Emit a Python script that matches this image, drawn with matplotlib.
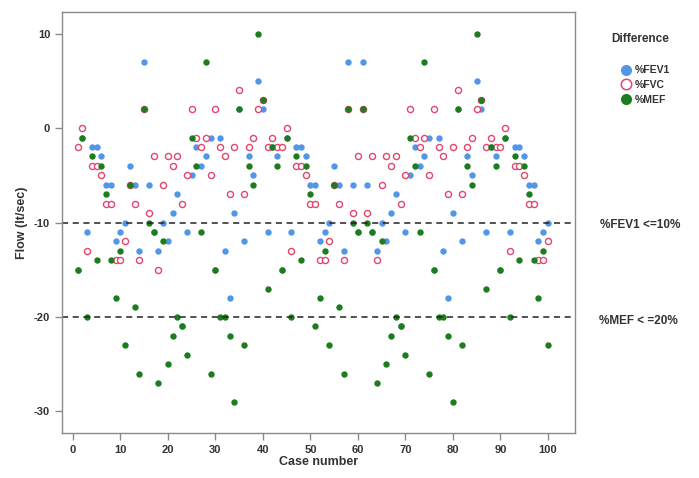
import numpy as np
import matplotlib
matplotlib.use('Agg')
import matplotlib.pyplot as plt
from matplotlib.lines import Line2D

plt.rcParams['font.family'] = ['Liberation Sans', 'DejaVu Sans']
plt.rcParams['axes.unicode_minus'] = False

casos = np.arange(1, 101)

# valores (diferencas por caso)
fev1 = [-15, -1, -11, -2, -2, -3, -6, -6, -12, -11,
        -10, -4, -6, -13, 7, -6, -11, -13, -10, -12,
        -9, -7, -21, -11, -5, -2, -4, -3, -1, -15,
        -1, -13, -18, -9, 2, -12, -3, -5, 5, 2,
        -11, -2, -3, -15, -1, -11, -2, -2, -3, -6,
        -6, -12, -11, -10, -4, -6, -13, 7, -6, -11,
        7, -6, -11, -13, -10, -12, -9, -7, -21, -11,
        -5, -2, -4, -3, -1, -15, -1, -13, -18, -9,
        2, -12, -3, -5, 5, 2, -11, -2, -3, -15,
        -1, -11, -2, -2, -3, -6, -6, -12, -11, -10]

fvc = [-2, 0, -13, -4, -4, -5, -8, -8, -14, -14,
       -12, -6, -8, -14, 2, -9, -3, -15, -6, -3,
       -4, -3, -8, -5, 2, -1, -2, -1, -5, 2,
       -2, -3, -7, -2, 4, -7, -2, -1, 2, 3,
       -2, -1, -2, -2, 0, -13, -4, -4, -5, -8,
       -8, -14, -14, -12, -6, -8, -14, 2, -9, -3,
       2, -9, -3, -14, -6, -3, -4, -3, -8, -5,
       2, -1, -2, -1, -5, 2, -2, -3, -7, -2,
       4, -7, -2, -1, 2, 3, -2, -1, -2, -2,
       0, -13, -4, -4, -5, -8, -8, -14, -14, -12]

mef = [-15, -1, -20, -3, -14, -4, -7, -14, -18, -13,
       -23, -6, -19, -26, 2, -10, -11, -27, -12, -25,
       -22, -20, -21, -24, -1, -4, -11, 7, -26, -15,
       -20, -20, -22, -29, 2, -23, -4, -6, 10, 3,
       -17, -2, -4, -15, -1, -20, -3, -14, -4, -7,
       -21, -18, -13, -23, -6, -19, -26, 2, -10, -11,
       2, -10, -11, -27, -12, -25, -22, -20, -21, -24,
       -1, -4, -11, 7, -26, -15, -20, -20, -22, -29,
       2, -23, -4, -6, 10, 3, -17, -2, -4, -15,
       -1, -20, -3, -14, -4, -7, -14, -18, -13, -23]

azul = '#5296e8'
rosa = '#e4466e'
verde = '#1d7c1d'
cinza = '#333333'

fig = plt.figure(figsize=(6.99, 4.78), dpi=100)
ax = fig.add_axes([62/699, 1-433/478, (575-62)/699, (433-12)/478])

ax.plot(casos, fev1, 'o', color=azul, markersize=4.6, markeredgewidth=0)
ax.plot(casos, fvc, 'o', markerfacecolor='white', markeredgecolor=rosa,
        markersize=4.4, markeredgewidth=1.0)
ax.plot(casos, mef, 'o', color=verde, markersize=4.6, markeredgewidth=0)

# linhas de referencia
ax.axhline(-10, color='#222222', linestyle=(0, (4, 3)), linewidth=1.1)
ax.axhline(-20, color='#222222', linestyle=(0, (4, 3)), linewidth=1.1)

ax.set_xlim(-2.3, 105.7)
ax.set_ylim(-32.3, 12.3)
ax.set_xticks(range(0, 101, 10))
ax.set_yticks([-30, -20, -10, 0, 10])

for s in ax.spines.values():
    s.set_color('#8a8a8a')
    s.set_linewidth(1.0)
ax.tick_params(axis='both', colors='#8a8a8a', labelcolor=cinza, labelsize=8,
               length=5, width=1)
for lbl in ax.get_xticklabels() + ax.get_yticklabels():
    lbl.set_fontweight('bold')

ax.set_xlabel('Case number', fontsize=9, fontweight='bold', color=cinza, labelpad=1)
ax.set_ylabel('Flow (lt/sec)', fontsize=9, fontweight='bold', color=cinza, labelpad=4)

# legenda
fig.text(640/699, 1-39/478, 'Difference', ha='center', va='center',
         fontsize=8.5, fontweight='bold', color=cinza)
handles = [
    Line2D([], [], marker='o', linestyle='', color=azul, markersize=8, markeredgewidth=0),
    Line2D([], [], marker='o', linestyle='', markerfacecolor='white', markeredgecolor=rosa,
           markersize=7.5, markeredgewidth=1.1),
    Line2D([], [], marker='o', linestyle='', color=verde, markersize=8, markeredgewidth=0),
]
leg = fig.legend(handles, ['%FEV1', '%FVC', '%MEF'], loc='upper left',
                 bbox_to_anchor=(615/699, 1-60/478), frameon=False,
                 prop={'size': 7.5, 'weight': 'bold'}, labelspacing=0.45,
                 handletextpad=0.2, handlelength=1.2, borderpad=0)
for t in leg.get_texts():
    t.set_color(cinza)

fig.text(640/699, 1-225/478, '%FEV1 <=10%', ha='center', va='center',
         fontsize=8.5, fontweight='bold', color=cinza)
fig.text(638/699, 1-321/478, '%MEF < =20%', ha='center', va='center',
         fontsize=8.5, fontweight='bold', color=cinza)

fig.savefig('out.png', dpi=100)
